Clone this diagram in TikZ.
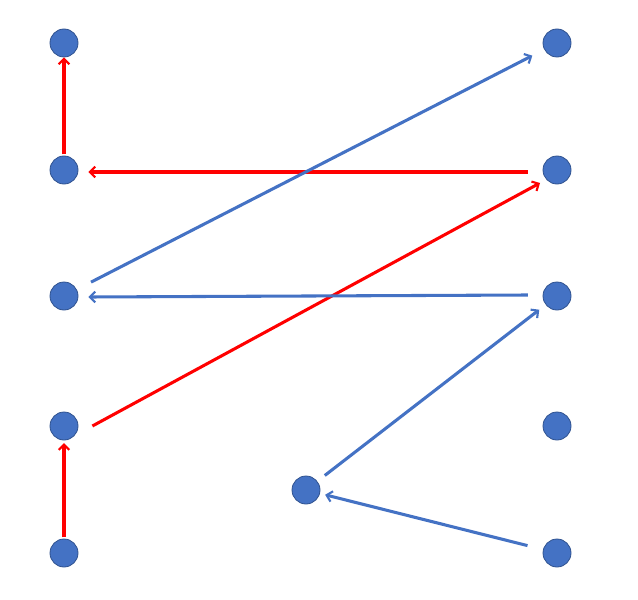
\documentclass[tikz,border=0pt]{standalone}
\usetikzlibrary{arrows.meta}
\definecolor{nodeblue}{HTML}{4472C4}
\definecolor{nodeedge}{HTML}{2F528F}
\definecolor{linered}{HTML}{FF0000}
\begin{document}
\begin{tikzpicture}[x=0.75pt,y=-0.75pt,
  dot/.style={circle,fill=nodeblue,draw=nodeedge,line width=0.6pt,minimum size=21pt,inner sep=0pt},
  redarrow/.style={draw=linered,line width=2.3pt,-{Straight Barb[length=4pt,width=8pt,line width=1.6pt]}},
  bluearrow/.style={draw=nodeblue,line width=2.3pt,-{Straight Barb[length=4pt,width=8pt,line width=1.6pt]}}]
\useasboundingbox (0,0) rectangle (638,599);
\node[dot] (l1) at (64,43) {};
\node[dot] (l2) at (64,170) {};
\node[dot] (l3) at (64,296) {};
\node[dot] (l4) at (64,426) {};
\node[dot] (l5) at (64,553) {};
\node[dot] (r1) at (557,43) {};
\node[dot] (r2) at (557,170) {};
\node[dot] (r3) at (557,296) {};
\node[dot] (r4) at (557,426) {};
\node[dot] (r5) at (557,553) {};
\node[dot] (m) at (306,490) {};
% red arrows
\draw[redarrow,shorten <=1pt,shorten >=2pt] (l5) -- (l4);
\draw[redarrow,shorten <=1pt,shorten >=0pt] (l2) -- (l1);
\draw[redarrow] ([xshift=-11pt,yshift=-1.5pt]r2.west) -- ([xshift=7.5pt,yshift=-1.5pt]l2.east);
\draw[redarrow] ([xshift=10.5pt]l4.east) -- ([xshift=-12.75pt,yshift=-9.75pt]r2.center);
% blue arrows
\draw[bluearrow,shorten <=12pt,shorten >=10pt] (l3) -- (r1);
\draw[bluearrow] ([xshift=-11pt,yshift=0.75pt]r3.west) -- ([xshift=7.5pt,yshift=-0.75pt]l3.east);
\draw[bluearrow,shorten <=7pt,shorten >=6pt] (m) -- (r3);
\draw[bluearrow,shorten <=12pt,shorten >=4pt] (r5) -- (m);
\end{tikzpicture}
\end{document}
